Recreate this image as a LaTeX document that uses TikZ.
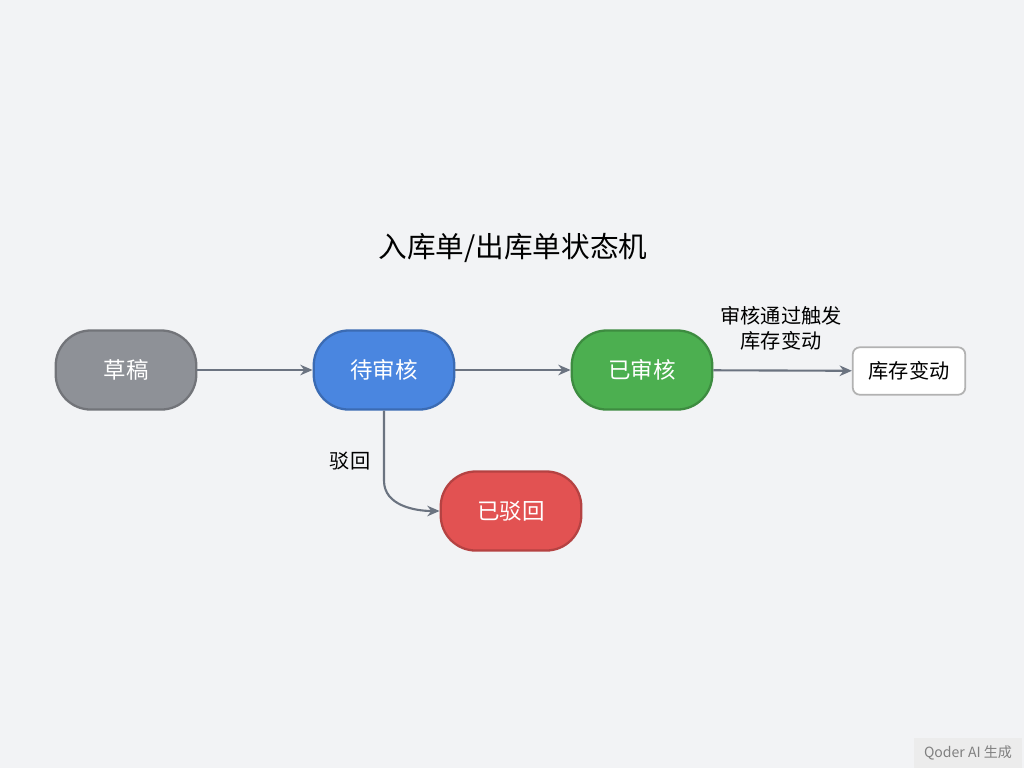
\documentclass[tikz,border=0pt]{standalone}
\usepackage{fontspec}
\setmainfont{Noto Sans CJK SC}
\usetikzlibrary{arrows.meta,positioning}
\definecolor{bgc}{HTML}{F2F3F5}
\definecolor{linec}{HTML}{6B7380}
\definecolor{grayc}{HTML}{8E9197}
\definecolor{bluec}{HTML}{4A86E0}
\definecolor{greenc}{HTML}{4CAF50}
\definecolor{redc}{HTML}{E25252}
\tikzset{state/.style={rounded corners=20pt, minimum width=80pt, minimum height=45pt,
                       line width=1.3pt, text=white, font=\fontsize{12.8}{14}\selectfont},
         edge/.style={-{Stealth[length=7pt,width=6pt]}, line width=1.2pt, draw=linec},
         lbl/.style={font=\fontsize{11.5}{14}\selectfont, align=center, inner sep=1pt}}
\begin{document}
\begin{tikzpicture}[x=0.02cm, y=-0.02cm]
  \fill[bgc] (0,0) rectangle (1024,768);
  \node (title) at (513,248) {\fontsize{16.3}{18}\selectfont 入库单/出库单状态机};
  \node (draft) [state, fill=grayc, draw=grayc!80!black] at (126,370) {草稿};
  \node (pend) [state, fill=bluec, draw=bluec!80!black] at (384,370) {待审核};
  \node (appr) [state, fill=greenc, draw=greenc!80!black] at (642,370) {已审核};
  \node (rej) [state, fill=redc, draw=redc!80!black] at (511,511) {已驳回};
  \node (stock) [draw=gray!60, fill=white, line width=1pt, rounded corners=4pt,
                 minimum width=64pt, minimum height=27pt, lbl] at (909,371) {库存变动};
  \draw[edge] (draft) -- (pend);
  \draw[edge] (pend) -- (appr);
  \draw[edge] (appr) -- (stock);
  \node (trig) [lbl] at (781,328) {审核通过触发\\库存变动};
  \draw[edge] (pend.south) -- ++(0,70) to[out=-90, in=180] (rej.west);
  \node (back) [lbl] at (350,461) {驳回};
  \node (mark) [fill=gray!15, text=gray, minimum width=62pt, minimum height=17pt,
                font=\fontsize{8}{9}\selectfont] at (968,753) {Qoder AI 生成};
\end{tikzpicture}
\end{document}
